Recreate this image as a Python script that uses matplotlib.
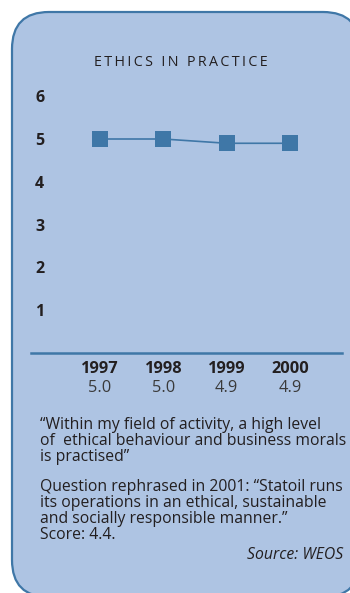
import numpy as np
import matplotlib.pyplot as plt
from matplotlib.patches import FancyBboxPatch
from matplotlib.transforms import blended_transform_factory

plt.rcParams['font.family'] = ['Open Sans', 'DejaVu Sans']

years = ['1997', '1998', '1999', '2000']
scores = [5.0, 5.0, 4.9, 4.9]
yticks = [1, 2, 3, 4, 5, 6]
title = 'ETHICS IN PRACTICE'
question = ['\u201cWithin my field of activity, a high level',
            'of  ethical behaviour and business morals',
            'is practised\u201d']
note = ['Question rephrased in 2001: \u201cStatoil runs',
        'its operations in an ethical, sustainable',
        'and socially responsible manner.\u201d',
        'Score: 4.4.']
source = 'Source: WEOS'

W, H = 350, 593
blue = '#3f77a7'
fill = '#aec4e3'
ink = '#231f20'

fig = plt.figure(figsize=(W / 100, H / 100), dpi=100)

# background panel, in pixel units
bg = fig.add_axes([0, 0, 1, 1])
bg.set_xlim(0, W)
bg.set_ylim(H, 0)
bg.axis('off')
panel = FancyBboxPatch((12, 12), 348, 585, boxstyle='round,pad=0,rounding_size=37',
                       facecolor=fill, edgecolor=blue, linewidth=1.6)
bg.add_patch(panel)

spaced = '\u2009'.join(title)
bg.text(181, 62, spaced, ha='center', va='center', fontsize=10.3, color=ink)

y = 425
for line in question:
    bg.text(40, y, line, ha='left', va='center', fontsize=11.3, color=ink)
    y += 16
y = 487
for line in note:
    bg.text(40, y, line, ha='left', va='center', fontsize=11.3, color=ink)
    y += 16
bg.text(343, 555, source, ha='right', va='center', fontsize=11.3,
        style='italic', color=ink)

# line chart
x = np.arange(len(years))
px_per_x = 63.3
px_per_y = 42.8
left, right, base = 31, 342, 353
ymax = 6.3
ax = fig.add_axes([left / W, (H - base) / H, (right - left) / W,
                   ymax * px_per_y / H])
ax.set_xlim(-(100 - left) / px_per_x, 3 + (right - 290) / px_per_x)
ax.set_ylim(0, ymax)
ax.patch.set_alpha(0)
for s in ['top', 'right', 'left']:
    ax.spines[s].set_visible(False)
ax.spines['bottom'].set_color(blue)
ax.spines['bottom'].set_linewidth(1.8)

ax.plot(x, scores, color=blue, linewidth=1.2, marker='s', markersize=11.5,
        markeredgewidth=0, markerfacecolor=blue)

ax.set_yticks(yticks)
ax.set_yticklabels([str(t) for t in yticks], fontweight='bold', fontsize=11.5,
                   color=ink)
ax.tick_params(axis='y', length=0, pad=-9.5)

ax.set_xticks(x)
ax.set_xticklabels(years, fontweight='bold', fontsize=11.8, color=ink)
ax.tick_params(axis='x', length=0, pad=6)

trans = blended_transform_factory(ax.transData, bg.transData)
for xi, v in zip(x, scores):
    bg.text(xi, 388, f'{v:.1f}', transform=trans, ha='center', va='center',
            fontsize=11.8, color='#3a3a3a')

fig.savefig('out.png', dpi=100)
